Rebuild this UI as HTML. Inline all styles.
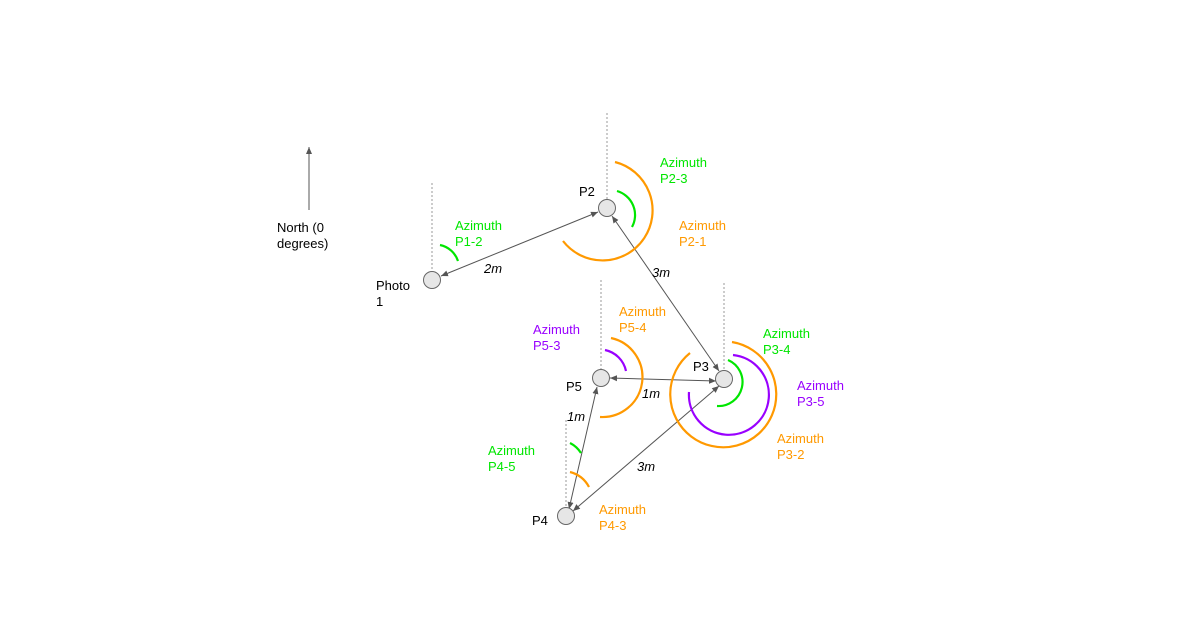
<!DOCTYPE html>
<html><head><meta charset="utf-8"><style>
html,body{margin:0;padding:0;background:#fff;}
svg{display:block;font-family:"Liberation Sans",Arial,sans-serif;font-size:13px;}
</style></head><body>
<svg width="1200" height="630" viewBox="0 0 1200 630" xmlns="http://www.w3.org/2000/svg">
<defs>
<marker id="ah" markerWidth="8" markerHeight="8" refX="7" refY="4" orient="auto-start-reverse" markerUnits="userSpaceOnUse">
<path d="M0,1 L7,4 L0,7 z" fill="#555"/></marker>
</defs>
<g stroke="#999" stroke-width="1" stroke-dasharray="2,2">
<line x1="432" y1="183" x2="432" y2="272"/>
<line x1="607" y1="113" x2="607" y2="200"/>
<line x1="601" y1="280" x2="601" y2="370"/>
<line x1="724" y1="283" x2="724" y2="371"/>
<line x1="566" y1="420" x2="566" y2="508"/>
</g>
<!-- north -->
<line x1="309" y1="210" x2="309" y2="147" stroke="#555" stroke-width="1" marker-end="url(#ah)"/>
<!-- connectors -->
<g stroke="#555" stroke-width="1" fill="none">
<line x1="441" y1="276" x2="598" y2="212" marker-start="url(#ah)" marker-end="url(#ah)"/>
<line x1="612" y1="216" x2="719" y2="371" marker-start="url(#ah)" marker-end="url(#ah)"/>
<line x1="610" y1="378" x2="716" y2="381" marker-start="url(#ah)" marker-end="url(#ah)"/>
<line x1="569" y1="509" x2="597" y2="387" marker-start="url(#ah)" marker-end="url(#ah)"/>
<line x1="573" y1="511" x2="719" y2="386" marker-start="url(#ah)" marker-end="url(#ah)"/>
</g>
<!-- arcs -->
<g fill="none" stroke-width="2.2">
<path d="M440,245 A24 24 0 0 1 458,261" stroke="#00e600"/>
<path d="M617,191 A25 25 0 0 1 632,227" stroke="#00e600"/>
<path d="M615,162 A50 50 0 1 1 563,241" stroke="#ff9900"/>
<path d="M605,350 A27 27 0 0 1 626,371" stroke="#9900ff"/>
<path d="M611,338 A40 40 0 0 1 600,417" stroke="#ff9900"/>
<path d="M728,360 A24 24 0 0 1 717,406" stroke="#00e600"/>
<path d="M733,355 A40 40 0 1 1 689,392" stroke="#9900ff"/>
<path d="M732,342 A53 53 0 1 1 690,353" stroke="#ff9900"/>
<path d="M570,443 A28 28 0 0 1 581,453" stroke="#00e600"/>
<path d="M570,472 A30 30 0 0 1 589,487" stroke="#ff9900"/>
</g>
<!-- nodes -->
<g fill="#e6e6e6" stroke="#666" stroke-width="1">
<circle cx="432" cy="280" r="8.5"/>
<circle cx="607" cy="208" r="8.5"/>
<circle cx="724" cy="379" r="8.5"/>
<circle cx="601" cy="378" r="8.5"/>
<circle cx="566" cy="516" r="8.5"/>
</g>
<!-- labels -->
<g fill="#000">
<text x="277" y="232">North (0</text><text x="277" y="248">degrees)</text>
<text x="376" y="290">Photo</text><text x="376" y="306">1</text>
<text x="579" y="196">P2</text>
<text x="566" y="391">P5</text>
<text x="693" y="371">P3</text>
<text x="532" y="525">P4</text>
</g>
<g fill="#000" font-style="italic">
<text x="484" y="273">2m</text>
<text x="652" y="277">3m</text>
<text x="642" y="398">1m</text>
<text x="567" y="421">1m</text>
<text x="637" y="471">3m</text>
</g>
<g fill="#00e600">
<text x="455" y="230">Azimuth</text><text x="455" y="246">P1-2</text>
<text x="660" y="167">Azimuth</text><text x="660" y="183">P2-3</text>
<text x="763" y="338">Azimuth</text><text x="763" y="354">P3-4</text>
<text x="488" y="455">Azimuth</text><text x="488" y="471">P4-5</text>
</g>
<g fill="#ff9900">
<text x="679" y="230">Azimuth</text><text x="679" y="246">P2-1</text>
<text x="619" y="316">Azimuth</text><text x="619" y="332">P5-4</text>
<text x="777" y="443">Azimuth</text><text x="777" y="459">P3-2</text>
<text x="599" y="514">Azimuth</text><text x="599" y="530">P4-3</text>
</g>
<g fill="#9900ff">
<text x="533" y="334">Azimuth</text><text x="533" y="350">P5-3</text>
<text x="797" y="390">Azimuth</text><text x="797" y="406">P3-5</text>
</g>
</svg>
</body></html>
